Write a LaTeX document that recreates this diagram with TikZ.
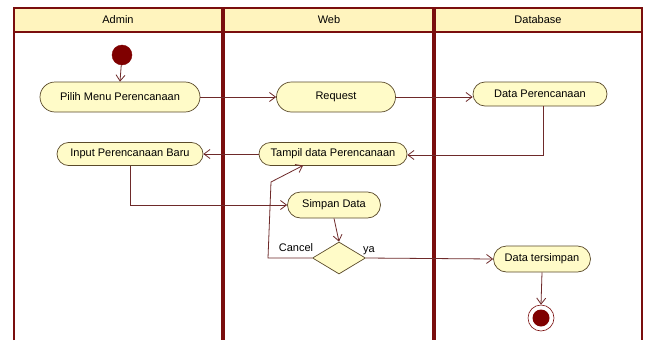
\documentclass[tikz,border=0pt]{standalone}
\usepackage{fontspec}
\setmainfont{Liberation Sans}
\usetikzlibrary{arrows.meta,shapes.geometric}
\definecolor{lane}{HTML}{7A0E0E}
\definecolor{hdr}{HTML}{FFF4BE}
\definecolor{act}{HTML}{FFFBC8}
\definecolor{actb}{HTML}{5A4A2A}
\definecolor{flow}{HTML}{6E2A2A}
\definecolor{dot}{HTML}{7F0000}
\tikzset{
  actbox/.style={draw=actb, fill=act, line width=0.7pt, rectangle, rounded corners=#1, inner sep=0pt, font=\fontsize{11}{13}\selectfont},
  flowline/.style={draw=flow, line width=0.8pt, -{Straight Barb[length=6pt,width=9pt]}},
  lanetext/.style={font=\fontsize{11}{13}\selectfont},
}
\begin{document}
\begin{tikzpicture}[x=1pt,y=-1pt]
\useasboundingbox (0,0) rectangle (645,340);
\fill[white] (0,0) rectangle (645,340);
% header
\fill[hdr] (14,8) rectangle (642,32);
\draw[lane, line width=1.6pt] (14,340) -- (14,8) -- (642,8) -- (642,340);
\draw[lane, line width=1.6pt] (14,32) -- (642,32);
\draw[lane, line width=3.5pt] (223,8) -- (223,340);
\draw[lane, line width=3.5pt] (434,8) -- (434,340);
\node[lanetext] (hA) at (118,20) {Admin};
\node[lanetext] (hW) at (329,20) {Web};
\node[lanetext] (hD) at (538,20) {Database};
% nodes
\node[circle, fill=dot, draw=dot, minimum size=20pt, inner sep=0pt] (init) at (122,55) {};
\node[actbox=15pt, minimum width=160pt, minimum height=30pt] (pilih) at (120,97) {Pilih Menu Perencanaan};
\node[actbox=15pt, minimum width=119pt, minimum height=30pt] (request) at (336,97) {Request};
\node[actbox=12pt, minimum width=134pt, minimum height=24pt] (datap) at (540,94) {Data Perencanaan};
\node[actbox=11.5pt, minimum width=146pt, minimum height=23pt] (input) at (130,154) {Input Perencanaan Baru};
\node[actbox=11.5pt, minimum width=148pt, minimum height=23pt] (tampil) at (333,154) {Tampil data Perencanaan};
\node[actbox=13pt, minimum width=93pt, minimum height=26pt] (simpan) at (334,205) {Simpan Data};
\node[diamond, draw=actb, fill=act, line width=0.7pt, minimum width=53pt, minimum height=32pt, inner sep=0pt] (dec) at (339,258) {};
\node[actbox=13pt, minimum width=97pt, minimum height=26pt] (datat) at (542,259) {Data tersimpan};
\node[circle, draw=lane, fill=white, line width=0.6pt, minimum size=26pt, inner sep=0pt] (final) at (541,318) {};
\node[circle, fill=dot, minimum size=17pt, inner sep=0pt] (finalin) at (final) {};
% labels
\node[lanetext] (lcancel) at (296,248) {Cancel};
\node[lanetext] (lya) at (369,251) {ya};
% helper coordinates
\coordinate (c1) at (543,155);
\coordinate (c2) at (268,258);
\coordinate (c3) at (271,182);
\coordinate (c4) at (303,165.5);
% connectors
\draw[flowline] (init) -- (pilih.north);
\draw[flowline] (pilih.east) -- (request.west);
\draw[flowline] (request.east) -- (request.east -| datap.west);
\draw[flowline] (c1 |- datap.south) -- (c1) -- (c1 -| tampil.east);
\draw[flowline] (tampil.west) -- (input.east);
\draw[flowline] (input.south) |- (simpan.west);
\draw[flowline] (simpan.south) -- (dec.north);
\draw[flowline] (dec.west) -- (c2) -- (c3) -- (c4);
\draw[flowline] (dec.east) -- (datat.west);
\draw[flowline] (datat.south) -- (final.north);
\end{tikzpicture}
\end{document}
